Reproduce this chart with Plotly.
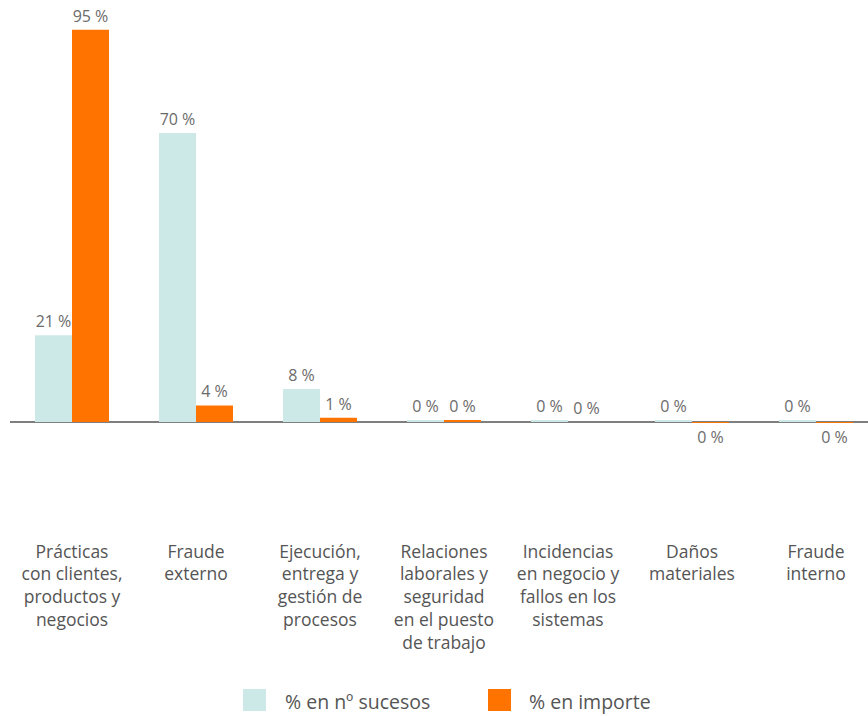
import plotly.graph_objects as go

# Operational-risk event types
categories = [
    "Prácticas<br>con clientes,<br>productos y<br>negocios",
    "Fraude<br>externo",
    "Ejecución,<br>entrega y<br>gestión de<br>procesos",
    "Relaciones<br>laborales y<br>seguridad<br>en el puesto<br>de trabajo",
    "Incidencias<br>en negocio y<br>fallos en los<br>sistemas",
    "Daños<br>materiales",
    "Fraude<br>interno",
]
series_names = ["% en nº sucesos", "% en importe"]
pct_events = [21, 70, 8, 0.3, 0.3, 0.3, 0.3]
pct_amount = [95, 4, 1, 0.3, 0, -0.02, -0.02]
colors = ["#cde9e7", "#ff7300"]

W, H = 868, 716
ML, MT, MB = 10, 10, 181
plot_w = W - ML
plot_h = H - MT - MB
px_per_pct = 4.13
zero_px = 422 - MT  # zero line position from plot top
y_max = zero_px / px_per_pct
y_min = -(plot_h - zero_px) / px_per_pct

x = list(range(len(categories)))


def labels(vals):
    return [f"{int(round(v))} %" for v in vals]


fig = go.Figure()
for name, vals, col in zip(series_names, [pct_events, pct_amount], colors):
    fig.add_trace(go.Bar(
        x=x, y=vals, name=name, marker_color=col, marker_line_width=0,
        text=labels(vals), textposition="outside", cliponaxis=False,
        textfont=dict(family="Open Sans", size=16, color="#6b6b6b"),
        showlegend=False,
    ))

# Legend drawn as squares plus text, placed below the category labels
def px_to_paper_x(px):
    return (px - ML) / plot_w


def px_to_paper_y(py):
    return (MT + plot_h - py) / plot_h


legend_items = [(243, 283), (488, 527)]
for (sq_x, txt_x), name, col in zip(legend_items, series_names, colors):
    fig.add_shape(type="rect", xref="paper", yref="paper",
                  x0=px_to_paper_x(sq_x), x1=px_to_paper_x(sq_x + 23),
                  y0=px_to_paper_y(711), y1=px_to_paper_y(689),
                  fillcolor=col, line_width=0)
    fig.add_annotation(xref="paper", yref="paper", x=px_to_paper_x(txt_x),
                       y=px_to_paper_y(701), text=name, showarrow=False,
                       xanchor="left", yanchor="middle",
                       font=dict(family="Open Sans", size=19.5, color="#555555"))

fig.update_layout(
    width=W, height=H,
    margin=dict(l=ML, r=0, t=MT, b=MB),
    paper_bgcolor="white", plot_bgcolor="white",
    barmode="group", bargap=0.403, bargroupgap=0,
    xaxis=dict(tickvals=x, ticktext=categories, range=[-0.5, -0.5 + plot_w / 124],
               showgrid=False, showline=False, zeroline=False, ticks="",
               ticklabelstandoff=4,
               tickfont=dict(family="Open Sans", size=17.5, color="#555555")),
    yaxis=dict(range=[y_min, y_max], showgrid=False, showticklabels=False,
               showline=False, zeroline=True, zerolinecolor="#7f7f7f",
               zerolinewidth=2),
)

fig.write_html("out.html")
